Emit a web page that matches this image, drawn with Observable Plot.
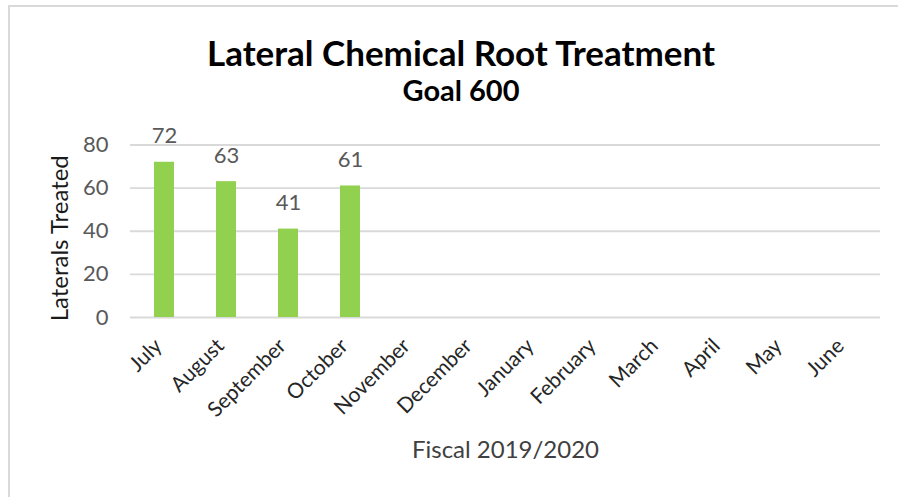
<!DOCTYPE html>
<html><head><meta charset="utf-8">
<script src="https://cdn.jsdelivr.net/npm/d3@7"></script>
<script src="https://cdn.jsdelivr.net/npm/@observablehq/plot@0.6"></script>
<style>
body{margin:0;background:#fff;}
#wrap{position:relative;width:898px;height:497px;overflow:hidden;font-family:Lato,"Open Sans",sans-serif;background:#fff;}
#ftop{position:absolute;left:8px;top:5px;width:890px;height:2px;background:#d9d9d9;}
#fleft{position:absolute;left:8px;top:5px;width:2px;height:492px;background:#d9d9d9;}
#chart{position:absolute;left:0;top:0;}
.t{position:absolute;left:0;width:922px;text-align:center;font-weight:bold;color:#000;white-space:nowrap;}
#title{top:32px;font-size:35px;line-height:40px;}
#sub{top:73px;font-size:29px;line-height:34px;}
</style>
</head><body>
<div id="wrap">
<div id="chart"></div>
<div id="ftop"></div><div id="fleft"></div>
<div class="t" id="title">Lateral Chemical Root Treatment</div>
<div class="t" id="sub">Goal 600</div>
</div>
<script>
const months = ["July","August","September","October","November","December","January","February","March","April","May","June"];
const values = [72, 63, 41, 61, null, null, null, null, null, null, null, null];
const yTicks = [0, 20, 40, 60, 80];
const yLabel = "Laterals Treated";
const xLabel = "Fiscal 2019/2020";

const data = months.map((m, i) => ({month: m, value: values[i]}));
const bars = data.filter(d => d.value != null);

const chart = Plot.plot({
  width: 898,
  height: 497,
  marginLeft: 130,
  marginRight: 18,
  marginTop: 144.5,
  marginBottom: 180,
  style: {fontFamily: "Lato, 'Open Sans', sans-serif", background: "transparent"},
  x: {domain: months, paddingInner: 0.68, paddingOuter: 0.34, label: null},
  y: {domain: [0, 80], label: null},
  marks: [
    Plot.ruleY(yTicks, {stroke: "#d9d9d9", strokeWidth: 1.8}),
    Plot.barY(bars, {x: "month", y: "value", fill: "#92D050"}),
    Plot.text(bars, {x: "month", y: "value", text: d => String(d.value), dy: -26, fill: "#595959", fontSize: 22}),
    Plot.axisY({ticks: yTicks, tickSize: 0, tickPadding: 22, fontSize: 22, fill: "#595959", label: null}),
    Plot.axisX({tickSize: 0, tickRotate: -45, tickPadding: 10, dx: -6, dy: 15, fontSize: 21, fill: "#262626", label: null}),
    Plot.text([yLabel], {text: d => d, frameAnchor: "left", textAnchor: "middle", dx: -70, dy: 7, rotate: -90, fontSize: 24, fill: "#1a1a1a"}),
    Plot.text([xLabel], {text: d => d, frameAnchor: "bottom", dy: 140, fontSize: 24, fill: "#404040"})
  ]
});
document.getElementById("chart").appendChild(chart);
</script>
</body></html>
